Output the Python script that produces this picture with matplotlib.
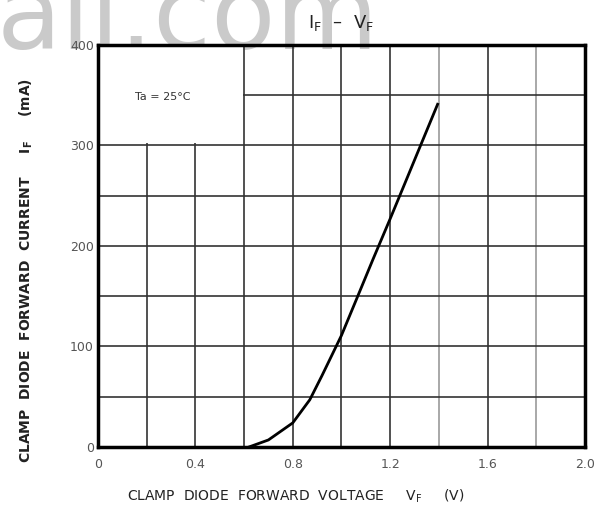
import matplotlib.pyplot as plt
from matplotlib.patches import Rectangle
import numpy as np

# forward characteristic of the clamp diode
vf = [0.62, 0.70, 0.80, 0.87, 0.92, 0.97, 1.00, 1.06, 1.13, 1.20, 1.26, 1.33, 1.395]
i_f = [0, 7, 24, 47, 71, 96, 111, 146, 187, 227, 262, 303, 341]

x_ticks = [0, 0.4, 0.8, 1.2, 1.6, 2.0]
x_labels = ['0', '0.4', '0.8', '1.2', '1.6', '2.0']
y_ticks = [0, 100, 200, 300, 400]
y_labels = ['0', '100', '200', '300', '400']

plt.rcParams['font.family'] = ['DejaVu Sans']

fig = plt.figure(figsize=(6.03, 5.17), dpi=100)
ax = fig.add_axes([0.1625, 0.1354, 0.8075, 0.7776])
ax.set_facecolor('none')
ax.set_xlim(0, 2.0)
ax.set_ylim(0, 400)

# grid: every 0.2 V and every 50 mA
for v in np.arange(0.2, 2.0, 0.2):
    c = '#9a9a9a' if round(v, 1) in (1.4, 1.8) else '#333333'
    ax.axvline(v, color=c, lw=1.2, zorder=1)
for i in range(50, 400, 50):
    ax.axhline(i, color='#333333', lw=1.2, zorder=1)

# blank corner that holds the condition note
ax.add_patch(Rectangle((0.005, 302), 0.59, 97, facecolor='white', edgecolor='none', zorder=2))
ax.text(0.15, 348, 'Ta = 25°C', fontsize=8, color='#333333', ha='left', va='center', zorder=3)

ax.plot(vf, i_f, color='black', lw=2, zorder=4)

for s in ax.spines.values():
    s.set_linewidth(2.5)
    s.set_zorder(5)

ax.set_xticks(x_ticks)
ax.set_xticklabels(x_labels)
ax.set_yticks(y_ticks)
ax.set_yticklabels(y_labels)
ax.tick_params(length=0, labelsize=9, colors='#555555')
ax.tick_params(axis='x', pad=8)
ax.tick_params(axis='y', pad=3)

ax.set_xlabel('CLAMP  DIODE  FORWARD  VOLTAGE     V$_\\mathregular{F}$     (V)',
              fontsize=10, color='#222222')
ax.xaxis.set_label_coords(0.405, -0.10)
ax.set_ylabel('CLAMP  DIODE  FORWARD  CURRENT     I$_\\mathregular{F}$     (mA)',
              fontsize=10, color='#222222', fontweight='bold')
ax.yaxis.set_label_coords(-0.13, 0.44)

fig.text(0.565, 0.955, 'I$_\\mathregular{F}$  –  V$_\\mathregular{F}$', fontsize=13,
         ha='center', va='center', color='#222222', zorder=3)

# faint site watermark across the top, kept behind the axes
fig.text(-0.005, 0.905, 'ali.com', fontsize=76, color='#cacaca', ha='left', va='baseline', zorder=-1)

fig.savefig('out.png', dpi=100)
